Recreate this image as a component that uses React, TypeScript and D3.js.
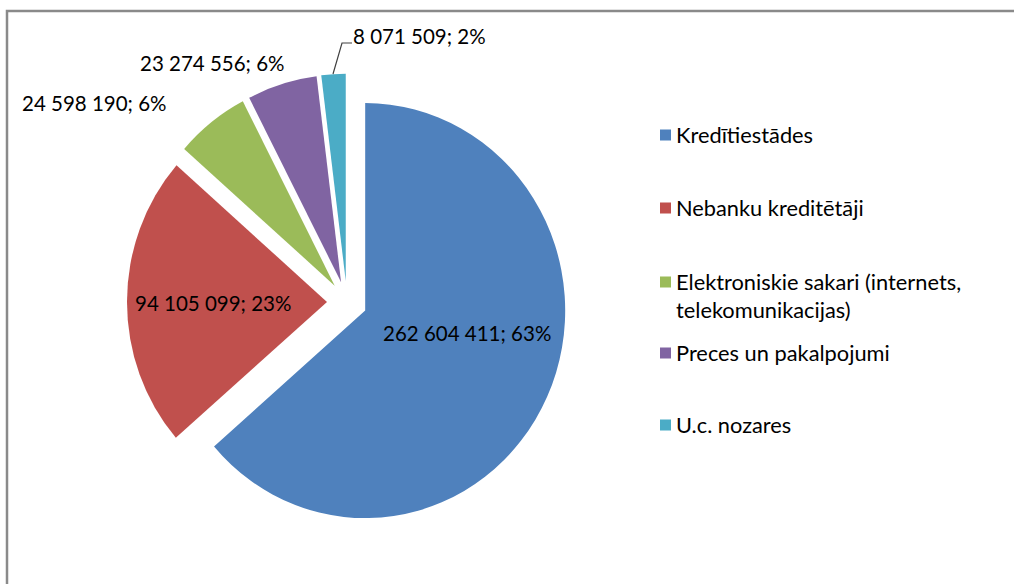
import React from "react";
import { pie, arc, format } from "d3";

// amounts by sector (EUR) and the percent labels as printed on the chart
const categories = [
  "Kredītiestādes",
  "Nebanku kreditētāji",
  "Elektroniskie sakari (internets, telekomunikacijas)",
  "Preces un pakalpojumi",
  "U.c. nozares",
];
const amounts = [262604411, 94105099, 24598190, 23274556, 8071509];
const percentLabels = [63, 23, 6, 6, 2];
const legendLines = [
  ["Kredītiestādes"],
  ["Nebanku kreditētāji"],
  ["Elektroniskie sakari (internets,", "telekomunikacijas)"],
  ["Preces un pakalpojumi"],
  ["U.c. nozares"],
];
const colors = ["#4F81BD", "#C0504D", "#9BBB59", "#8064A2", "#4BACC6"];

const W = 1014;
const H = 584;
const cx = 347;
const cy = 302;
const radius = 200;
const squash = 1.0375; // source picture is a little taller than wide
const explode = 20;
const font = "Lato, 'Open Sans', sans-serif";

// where each data label sits (left edge x, baseline y)
const labelPos: [number, number][] = [
  [383, 341],
  [135, 311],
  [22, 111],
  [140, 71],
  [353, 44],
];

const fmt = (v: number) => format(",")(v).replace(/,/g, " ");

const App = () => {
  const rows = categories.map((c, i) => ({ name: c, value: amounts[i], pct: percentLabels[i] }));
  const slices = pie<any>()
    .sort(null)
    .value((d) => d.value)(rows);
  const path = arc<any>().innerRadius(0).outerRadius(radius);

  return (
    <svg
      width={W}
      height={H}
      style={{ position: "absolute", left: 0, top: 0, background: "#fff" }}
      fontFamily={font}
    >
      <rect x={7} y={11} width={W + 50} height={H + 50} fill="#fff" stroke="#8a8a8a" strokeWidth={2.5} />

      <g transform={`translate(${cx},${cy}) scale(1,${squash})`}>
        {slices.map((s, i) => {
          const mid = (s.startAngle + s.endAngle) / 2;
          const dx = Math.sin(mid) * explode;
          const dy = -Math.cos(mid) * explode;
          return (
            <path key={i} d={path(s) as string} transform={`translate(${dx},${dy})`} fill={colors[i]} />
          );
        })}
      </g>

      {/* leader line for the smallest slice */}
      <polyline points="333,74 342,43 352,43" fill="none" stroke="#404040" strokeWidth={1.2} />

      {slices.map((s, i) => (
        <text key={i} x={labelPos[i][0]} y={labelPos[i][1]} fontSize={20.5} fill="#000">
          {`${fmt(s.data.value)}; ${s.data.pct}%`}
        </text>
      ))}

      <g>
        {legendLines.map((lines, i) => {
          const ys = [135, 208, 282, 353, 425];
          return (
            <g key={i}>
              <rect x={660} y={ys[i] - 5.5} width={11} height={11} fill={colors[i]} />
              {lines.map((t, j) => (
                <text key={j} x={676} y={ys[i] + j * 28} dy="0.35em" fontSize={21.8} fill="#000">
                  {t}
                </text>
              ))}
            </g>
          );
        })}
      </g>
    </svg>
  );
};

export default App;
